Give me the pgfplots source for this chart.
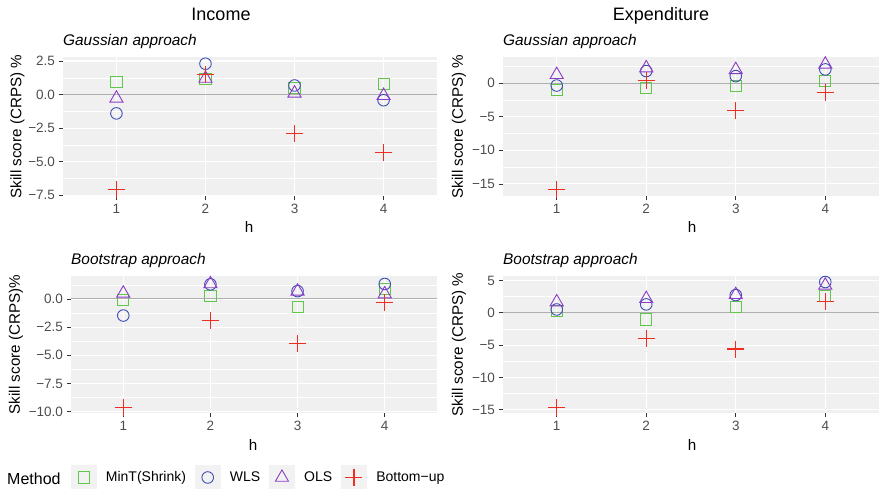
\documentclass[border=0pt]{standalone}
\usepackage{fontspec}
\setmainfont{Liberation Sans}
\usepackage{pgfplots}
\pgfplotsset{compat=1.18}
\usepackage{pgfplotstable}

\definecolor{cmint}{RGB}{95,200,75}
\definecolor{cwls}{RGB}{60,75,180}
\definecolor{cols}{RGB}{140,60,200}
\definecolor{cbu}{RGB}{240,45,35}
\definecolor{panelbg}{RGB}{240,240,240}
\definecolor{keybg}{RGB}{242,242,242}
\definecolor{zeroline}{RGB}{175,175,175}
\definecolor{ticktext}{RGB}{77,77,77}

% Income, Gaussian
\pgfplotstableread{
h mint wls ols bu
1 0.93 -1.40 -0.28 -7.08
2 1.18 2.30 1.20 1.50
3 0.50 0.68 0.10 -2.88
4 0.80 -0.42 -0.08 -4.33
}\ig
% Expenditure, Gaussian
\pgfplotstableread{
h mint wls ols bu
1 -1.00 -0.35 1.26 -15.85
2 -0.70 1.80 2.26 0.40
3 -0.45 1.05 2.00 -4.10
4 0.30 2.05 2.80 -1.35
}\eg
% Income, Bootstrap
\pgfplotstableread{
h mint wls ols bu
1 -0.09 -1.47 0.50 -9.60
2 0.30 1.30 1.33 -1.95
3 -0.68 0.70 0.68 -3.98
4 0.90 1.33 0.44 -0.32
}\ib
% Expenditure, Bootstrap
\pgfplotstableread{
h mint wls ols bu
1 0.26 0.52 1.67 -14.66
2 -1.04 1.30 2.18 -4.04
3 0.88 2.75 2.80 -5.60
4 2.60 4.77 4.25 1.81
}\eb

\pgfplotsset{
  panel/.style={
    scale only axis, anchor=south west,
    xmin=0.4, xmax=4.6, xtick={1,2,3,4}, xticklabels={1,2,3,4},
    axis background/.style={fill=panelbg},
    axis line style={draw=none},
    xtick pos=bottom, ytick pos=left,
    tick align=outside, major tick length=4.5pt, minor tick length=0pt,
    major tick style={color=black!80, line width=0.8pt},
    xmajorgrids, ymajorgrids, yminorgrids,
    major grid style={white, line width=1.1pt},
    minor grid style={white, line width=0.55pt},
    tick label style={font=\fontsize{13.5}{16}\selectfont, text=ticktext},
  },
  smint/.style={only marks, mark=square, mark size=5.6pt, color=cmint, line width=0.9pt,
    mark options={solid, color=cmint, fill=none}},
  swls/.style={only marks, mark=o, mark size=5.8pt, color=cwls, line width=0.9pt,
    mark options={solid, color=cwls, fill=none}},
  sols/.style={only marks, mark=triangle, mark size=7.6pt, color=cols, line width=0.9pt,
    mark options={solid, color=cols, fill=none}},
  sbu/.style={only marks, mark=+, mark size=8.5pt, color=cbu, line width=1.1pt,
    mark options={solid, color=cbu, fill=none}},
  zline/.style={zeroline, line width=1pt, forget plot},
}

\begin{document}
\begin{tikzpicture}
\useasboundingbox (0,0) rectangle (879pt,489pt);

% Income Gaussian
\begin{axis}[panel, at={(63pt,293pt)}, width=374pt, height=139pt,
  ymin=-7.55, ymax=2.80,
  ytick={-7.5,-5,-2.5,0,2.5}, yticklabels={−7.5,−5.0,−2.5,0.0,2.5},
  minor ytick={-6.25,-3.75,-1.25,1.25}]
\addplot[zline] coordinates {(0.4,0) (4.6,0)};
\addplot[smint] table[x=h,y=mint]{\ig};
\addplot[swls] table[x=h,y=wls]{\ig};
\addplot[sols] table[x=h,y=ols]{\ig};
\addplot[sbu] table[x=h,y=bu]{\ig};
\end{axis}

% Expenditure Gaussian
\begin{axis}[panel, at={(503pt,293pt)}, width=376pt, height=139pt,
  ymin=-16.8, ymax=3.9,
  ytick={-15,-10,-5,0}, yticklabels={−15,−10,−5,0},
  minor ytick={-12.5,-7.5,-2.5,2.5}]
\addplot[zline] coordinates {(0.4,0) (4.6,0)};
\addplot[smint] table[x=h,y=mint]{\eg};
\addplot[swls] table[x=h,y=wls]{\eg};
\addplot[sols] table[x=h,y=ols]{\eg};
\addplot[sbu] table[x=h,y=bu]{\eg};
\end{axis}

% Income Bootstrap
\begin{axis}[panel, at={(71pt,76pt)}, width=366pt, height=137pt,
  ymin=-10.12, ymax=2.04,
  ytick={-10,-7.5,-5,-2.5,0}, yticklabels={−10.0,−7.5,−5.0,−2.5,0.0},
  minor ytick={-8.75,-6.25,-3.75,-1.25,1.25}]
\addplot[zline] coordinates {(0.4,0) (4.6,0)};
\addplot[smint] table[x=h,y=mint]{\ib};
\addplot[swls] table[x=h,y=wls]{\ib};
\addplot[sols] table[x=h,y=ols]{\ib};
\addplot[sbu] table[x=h,y=bu]{\ib};
\end{axis}

% Expenditure Bootstrap
\begin{axis}[panel, at={(503pt,76pt)}, width=376pt, height=137pt,
  ymin=-15.5, ymax=5.7,
  ytick={-15,-10,-5,0,5}, yticklabels={−15,−10,−5,0,5},
  minor ytick={-12.5,-7.5,-2.5,2.5}]
\addplot[zline] coordinates {(0.4,0) (4.6,0)};
\addplot[smint] table[x=h,y=mint]{\eb};
\addplot[swls] table[x=h,y=wls]{\eb};
\addplot[sols] table[x=h,y=ols]{\eb};
\addplot[sbu] table[x=h,y=bu]{\eb};
\end{axis}

% legend (empty axis carrying the legend only)
\begin{axis}[at={(71pt,76pt)}, anchor=south west, scale only axis, width=366pt, height=137pt,
  hide axis, xmin=0, xmax=1, ymin=0, ymax=1,
  legend image code/.code={
    \fill[keybg] (0pt,-12pt) rectangle (24.5pt,12pt);
    \draw[mark repeat=2,mark phase=2,#1] plot coordinates {(0pt,0pt) (12.25pt,0pt) (24.5pt,0pt)};
  },
  legend style={at={(0,-0.4708)}, anchor=west, draw=none, fill=none,
    inner sep=0pt, outer sep=0pt, legend columns=-1,
    font=\fontsize{14}{16}\selectfont,
    nodes={inner sep=0pt},
    /tikz/every even column/.append style={column sep=9pt},
    /tikz/every odd column/.append style={column sep=9.5pt}}]
\addlegendimage{smint}
\addlegendentry{MinT(Shrink)}
\addlegendimage{swls}
\addlegendentry{WLS}
\addlegendimage{sols}
\addlegendentry{OLS}
\addlegendimage{sbu}
\addlegendentry{Bottom−up}
\end{axis}

% titles
\node[anchor=base, inner sep=0pt, font=\fontsize{18}{20}\selectfont] at (221pt,468.3pt) {Income};
\node[anchor=base, inner sep=0pt, font=\fontsize{18}{20}\selectfont] at (661pt,468.3pt) {Expenditure};
% subtitles
\node[anchor=base west, inner sep=0pt, font=\itshape\fontsize{15.4}{18}\selectfont] at (63pt,443.3pt) {Gaussian approach};
\node[anchor=base west, inner sep=0pt, font=\itshape\fontsize{15.4}{18}\selectfont] at (503pt,443.3pt) {Gaussian approach};
\node[anchor=base west, inner sep=0pt, font=\itshape\fontsize{15.4}{18}\selectfont] at (71pt,224pt) {Bootstrap approach};
\node[anchor=base west, inner sep=0pt, font=\itshape\fontsize{15.4}{18}\selectfont] at (503pt,224pt) {Bootstrap approach};
% y labels
\node[rotate=90, font=\fontsize{15.2}{18}\selectfont] at (17.5pt,362.5pt) {Skill score (CRPS) \%};
\node[rotate=90, font=\fontsize{15.2}{18}\selectfont] at (459pt,362.5pt) {Skill score (CRPS) \%};
\node[rotate=90, font=\fontsize{15.2}{18}\selectfont] at (16pt,144.5pt) {Skill score (CRPS)\%};
\node[rotate=90, font=\fontsize{15.2}{18}\selectfont] at (459pt,144.5pt) {Skill score (CRPS) \%};
% x labels
\node[font=\fontsize{15.2}{18}\selectfont] at (249pt,261.5pt) {h};
\node[font=\fontsize{15.2}{18}\selectfont] at (692pt,261.5pt) {h};
\node[font=\fontsize{15.2}{18}\selectfont] at (253pt,44pt) {h};
\node[font=\fontsize{15.2}{18}\selectfont] at (692pt,44pt) {h};
% legend title
\node[anchor=west, inner sep=0pt, font=\fontsize{16}{18}\selectfont] at (7pt,10pt) {Method};
\end{tikzpicture}
\end{document}
